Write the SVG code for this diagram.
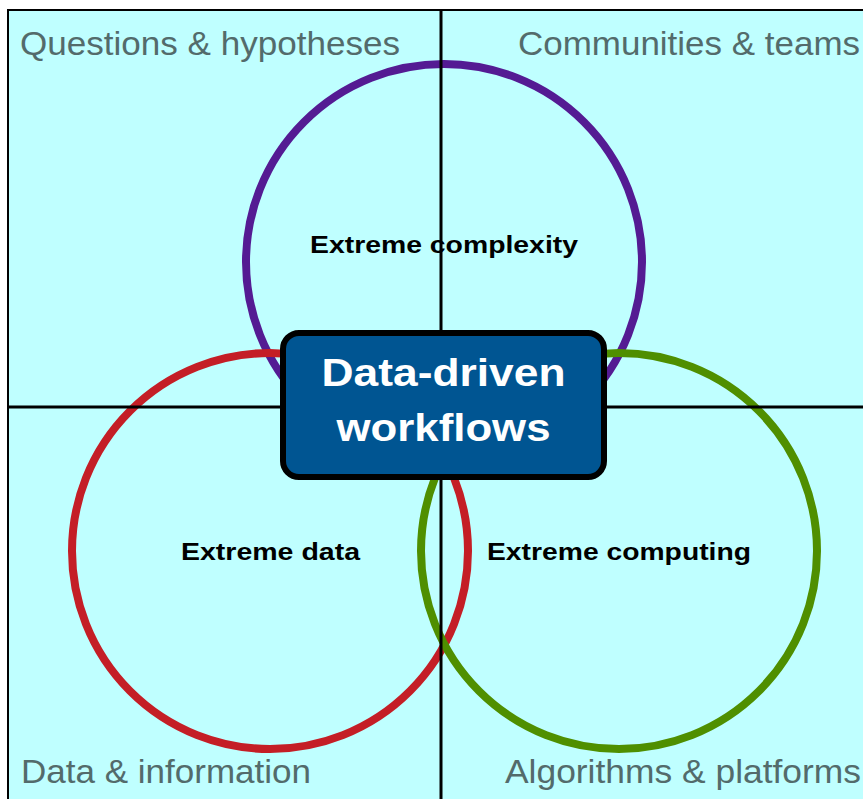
<svg xmlns="http://www.w3.org/2000/svg" width="863" height="799" viewBox="0 0 863 799">
  <defs>
    <style>
      .quad { fill: #bfffff; stroke: #000; stroke-width: 2; }
      .qlabel { font-family: "Liberation Sans", Arial, sans-serif; font-size: 34px; fill: #536b6b; }
      .ring { fill: none; stroke-width: 8; }
      .clabel { font-family: "Liberation Sans", Arial, sans-serif; font-size: 23px; font-weight: bold; fill: #000; }
      .divider { stroke: #000; stroke-width: 3; }
      .hub { fill: #005592; stroke: #000; stroke-width: 6; }
      .hubtext { font-family: "Liberation Sans", Arial, sans-serif; font-size: 39px; font-weight: bold; fill: #fff; }
    </style>
  </defs>
  <rect width="863" height="799" fill="#ffffff"/>
  <g id="quadrants">
    <g id="q-questions">
      <rect class="quad" x="8" y="10" width="433" height="397"/>
    </g>
    <g id="q-communities">
      <rect class="quad" x="441" y="10" width="430" height="397"/>
    </g>
    <g id="q-data">
      <rect class="quad" x="8" y="407" width="433" height="400"/>
    </g>
    <g id="q-algorithms">
      <rect class="quad" x="441" y="407" width="430" height="400"/>
    </g>
  </g>
  <g id="circle-complexity">
    <circle class="ring" cx="444" cy="262" r="198" stroke="#541b93"/>
  </g>
  <g id="circle-data">
    <circle class="ring" cx="270" cy="551" r="198" stroke="#c41e26"/>
  </g>
  <g id="circle-computing">
    <circle class="ring" cx="619" cy="551" r="198" stroke="#4f8f00"/>
  </g>
  <g id="connectors">
    <line class="divider" x1="441" y1="10" x2="441" y2="799"/>
    <line class="divider" x1="8" y1="407" x2="863" y2="407"/>
  </g>
  <g id="labels">
    <text class="qlabel" x="20" y="55" textLength="380" lengthAdjust="spacingAndGlyphs">Questions &amp; hypotheses</text>
    <text class="qlabel" x="518" y="55" textLength="342" lengthAdjust="spacingAndGlyphs">Communities &amp; teams</text>
    <text class="qlabel" x="21" y="783" textLength="290" lengthAdjust="spacingAndGlyphs">Data &amp; information</text>
    <text class="qlabel" x="505" y="783" textLength="356" lengthAdjust="spacingAndGlyphs">Algorithms &amp; platforms</text>
  </g>
  <g id="label-complexity">
    <text class="clabel" x="310" y="253" textLength="268" lengthAdjust="spacingAndGlyphs">Extreme complexity</text>
  </g>
  <g id="label-data">
    <text class="clabel" x="181" y="560" textLength="179" lengthAdjust="spacingAndGlyphs">Extreme data</text>
  </g>
  <g id="label-computing">
    <text class="clabel" x="487" y="560" textLength="264" lengthAdjust="spacingAndGlyphs">Extreme computing</text>
  </g>
  <g id="hub">
    <rect class="hub" x="283" y="333" width="321" height="144" rx="16" ry="16"/>
    <text class="hubtext" x="443.5" y="386" text-anchor="middle" textLength="244" lengthAdjust="spacingAndGlyphs">Data-driven</text>
    <text class="hubtext" x="443.5" y="441" text-anchor="middle" textLength="214" lengthAdjust="spacingAndGlyphs">workflows</text>
  </g>
</svg>
